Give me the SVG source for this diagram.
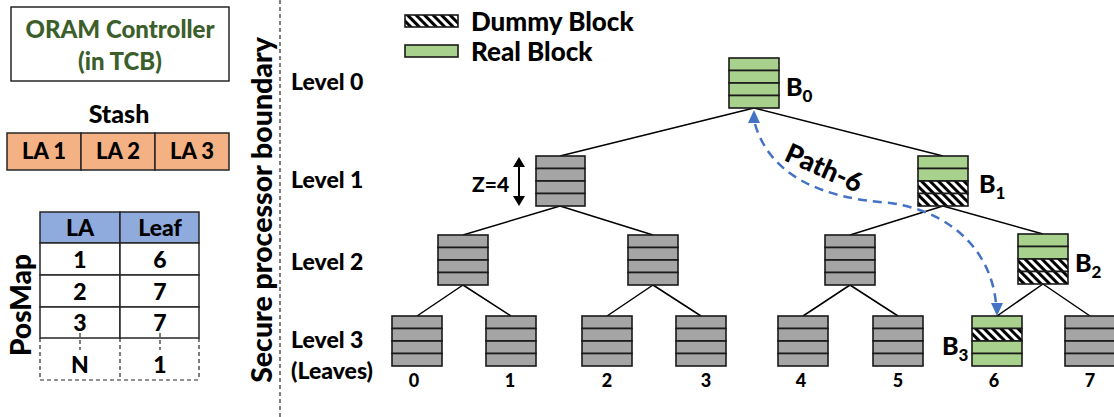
<svg xmlns="http://www.w3.org/2000/svg" width="1114" height="417" viewBox="0 0 1114 417">
  <style>
    text { font-family: "Lato", "Liberation Sans", sans-serif; font-weight: 900; fill: #000; }
    .box { fill: #fff; stroke: #262626; stroke-width: 1.5; }
    .cell { stroke: #262626; stroke-width: 1.5; }
    .stash { fill: #f4b183; }
    .hdr { fill: #8faadc; }
    .white { fill: #fff; }
    .gray { fill: #a5a5a5; stroke: #1a1a1a; stroke-width: 1.6; }
    .green { fill: #a9d18e; stroke: #1a1a1a; stroke-width: 1.6; }
    .hatch { fill: url(#hatch); stroke: #1a1a1a; stroke-width: 1.6; }
    .edge { stroke: #000; stroke-width: 1.5; fill: none; }
    .dash { stroke: #262626; stroke-width: 1.2; stroke-dasharray: 4 3; fill: none; }
    .path6 { stroke: #4472c4; stroke-width: 2.5; stroke-dasharray: 9 6; fill: none; }
    .lvl { font-size: 23px; }
    .leaf { font-size: 18px; text-anchor: middle; }
    .blab { font-size: 25px; }
    .sub { font-size: 17px; }
    .tbl { font-size: 23px; text-anchor: middle; }
  </style>
  <defs>
    <pattern id="hatch" patternUnits="userSpaceOnUse" width="6" height="6" patternTransform="rotate(-45)">
      <rect width="6" height="6" fill="#fff"/>
      <rect width="3" height="6" fill="#000"/>
    </pattern>
  </defs>

  <!-- Left panel: controller, stash, position map -->
  <g id="oram-controller">
    <rect class="box" x="11" y="7" width="218" height="74"/>
    <text x="120" y="38" font-size="24" text-anchor="middle" style="fill:#3b5e2b">ORAM Controller</text>
    <text x="120" y="70" font-size="24" text-anchor="middle" style="fill:#3b5e2b">(in TCB)</text>
  </g>

  <g id="stash">
    <text x="119" y="123" font-size="25" text-anchor="middle">Stash</text>
    <rect class="cell stash" x="7" y="133" width="74" height="37"/>
    <rect class="cell stash" x="81" y="133" width="74" height="37"/>
    <rect class="cell stash" x="155" y="133" width="74" height="37"/>
    <text x="44" y="159" font-size="22" text-anchor="middle">LA 1</text>
    <text x="118" y="159" font-size="22" text-anchor="middle">LA 2</text>
    <text x="192" y="159" font-size="22" text-anchor="middle">LA 3</text>
  </g>

  <g id="posmap">
    <text transform="translate(31,305) rotate(-90)" font-size="28" text-anchor="middle">PosMap</text>
    <rect class="cell hdr" x="40" y="212" width="80" height="31"/>
    <rect class="cell hdr" x="120" y="212" width="79" height="31"/>
    <rect class="cell white" x="40" y="243" width="80" height="32"/>
    <rect class="cell white" x="120" y="243" width="79" height="32"/>
    <rect class="cell white" x="40" y="275" width="80" height="32"/>
    <rect class="cell white" x="120" y="275" width="79" height="32"/>
    <rect class="cell white" x="40" y="307" width="80" height="31"/>
    <rect class="cell white" x="120" y="307" width="79" height="31"/>
    <line class="dash" x1="40" y1="338" x2="40" y2="380"/>
    <line class="dash" x1="120" y1="338" x2="120" y2="380"/>
    <line class="dash" x1="199" y1="338" x2="199" y2="380"/>
    <line class="dash" x1="40" y1="380" x2="199" y2="380"/>
    <line class="dash" x1="80" y1="333" x2="80" y2="350"/>
    <line class="dash" x1="160" y1="333" x2="160" y2="350"/>
    <text class="tbl" x="80" y="236">LA</text>
    <text class="tbl" x="160" y="236">Leaf</text>
    <text class="tbl" x="80" y="268">1</text>
    <text class="tbl" x="160" y="268">6</text>
    <text class="tbl" x="80" y="300">2</text>
    <text class="tbl" x="160" y="300">7</text>
    <text class="tbl" x="80" y="331">3</text>
    <text class="tbl" x="160" y="331">7</text>
    <text class="tbl" x="80" y="373">N</text>
    <text class="tbl" x="160" y="373">1</text>
  </g>

  <!-- Secure processor boundary -->
  <g id="boundary">
    <line x1="280" y1="0" x2="280" y2="417" stroke="#555" stroke-width="1.5" stroke-dasharray="4 3"/>
    <text transform="translate(272,210) rotate(-90)" font-size="28.5" text-anchor="middle">Secure processor boundary</text>
  </g>

  <!-- Legend -->
  <g id="legend">
    <rect class="hatch" x="405" y="15" width="53" height="12"/>
    <text x="471" y="31" font-size="26">Dummy Block</text>
    <rect class="green" x="405" y="45" width="53" height="12"/>
    <text x="471" y="61" font-size="26">Real Block</text>
  </g>

  <!-- Level labels -->
  <g id="levels">
    <text class="lvl" x="291" y="90">Level 0</text>
    <text class="lvl" x="291" y="188">Level 1</text>
    <text class="lvl" x="291" y="270">Level 2</text>
    <text class="lvl" x="291" y="348">Level 3</text>
    <text class="lvl" x="291" y="379">(Leaves)</text>
  </g>

  <!-- Tree edges, bucket-size arrow and the highlighted path -->
  <g id="connectors">
    <path class="edge" d="M754,108 L560,156 M754,108 L943,156"/>
    <path class="edge" d="M560,206 L463,235 M560,206 L653,235"/>
    <path class="edge" d="M943,206 L850,235 M943,206 L1043,234"/>
    <path class="edge" d="M463,285 L417,316 M463,285 L511,316"/>
    <path class="edge" d="M653,285 L607,316 M653,285 L701,316"/>
    <path class="edge" d="M850,285 L803,316 M850,285 L898,316"/>
    <path class="edge" d="M1043,284 L997,316 M1043,284 L1090,316"/>
    <line x1="519" y1="165" x2="519" y2="198" stroke="#000" stroke-width="2"/>
    <path d="M519,157 L513,167 L525,167 Z M519,206 L513,196 L525,196 Z" fill="#000"/>
    <path class="path6" d="M755,124 C770,175 820,198 890,203 C955,212 992,255 996,304"/>
    <path d="M754,110 L748,123 L760,123 Z" fill="#4472c4"/>
    <path d="M997,316 L991,303 L1003,303 Z" fill="#4472c4"/>
  </g>

  <text x="472" y="192" font-size="21">Z=4</text>
  <text transform="translate(783,160) rotate(24)" font-size="27">Path-6</text>

  <!-- Level 0 -->
  <g id="node-b0">
    <rect class="green" x="729" y="58" width="50" height="12.5"/>
    <rect class="green" x="729" y="70.5" width="50" height="12.5"/>
    <rect class="green" x="729" y="83" width="50" height="12.5"/>
    <rect class="green" x="729" y="95.5" width="50" height="12.5"/>
    <text class="blab" x="786" y="96">B<tspan class="sub" dy="6">0</tspan></text>
  </g>

  <!-- Level 1 -->
  <g id="node-l1-0">
    <rect class="gray" x="536" y="156" width="49" height="12.5"/>
    <rect class="gray" x="536" y="168.5" width="49" height="12.5"/>
    <rect class="gray" x="536" y="181" width="49" height="12.5"/>
    <rect class="gray" x="536" y="193.5" width="49" height="12.5"/>
  </g>
  <g id="node-b1">
    <rect class="green" x="918" y="156" width="50" height="12.5"/>
    <rect class="green" x="918" y="168.5" width="50" height="12.5"/>
    <rect class="hatch" x="918" y="181" width="50" height="12.5"/>
    <rect class="hatch" x="918" y="193.5" width="50" height="12.5"/>
    <text class="blab" x="979" y="193">B<tspan class="sub" dy="6">1</tspan></text>
  </g>

  <!-- Level 2 -->
  <g id="node-l2-0">
    <rect class="gray" x="438" y="235" width="50" height="12.5"/>
    <rect class="gray" x="438" y="247.5" width="50" height="12.5"/>
    <rect class="gray" x="438" y="260" width="50" height="12.5"/>
    <rect class="gray" x="438" y="272.5" width="50" height="12.5"/>
  </g>
  <g id="node-l2-1">
    <rect class="gray" x="628" y="235" width="50" height="12.5"/>
    <rect class="gray" x="628" y="247.5" width="50" height="12.5"/>
    <rect class="gray" x="628" y="260" width="50" height="12.5"/>
    <rect class="gray" x="628" y="272.5" width="50" height="12.5"/>
  </g>
  <g id="node-l2-2">
    <rect class="gray" x="825" y="235" width="50" height="12.5"/>
    <rect class="gray" x="825" y="247.5" width="50" height="12.5"/>
    <rect class="gray" x="825" y="260" width="50" height="12.5"/>
    <rect class="gray" x="825" y="272.5" width="50" height="12.5"/>
  </g>
  <g id="node-b2">
    <rect class="green" x="1018" y="234" width="50" height="12.5"/>
    <rect class="green" x="1018" y="246.5" width="50" height="12.5"/>
    <rect class="hatch" x="1018" y="259" width="50" height="12.5"/>
    <rect class="hatch" x="1018" y="271.5" width="50" height="12.5"/>
    <text class="blab" x="1075" y="272">B<tspan class="sub" dy="6">2</tspan></text>
  </g>

  <!-- Level 3 (leaves) -->
  <g id="leaf-0">
    <rect class="gray" x="392" y="316" width="50" height="12.5"/>
    <rect class="gray" x="392" y="328.5" width="50" height="12.5"/>
    <rect class="gray" x="392" y="341" width="50" height="12.5"/>
    <rect class="gray" x="392" y="353.5" width="50" height="12.5"/>
    <text class="leaf" x="414" y="387">0</text>
  </g>
  <g id="leaf-1">
    <rect class="gray" x="486" y="316" width="50" height="12.5"/>
    <rect class="gray" x="486" y="328.5" width="50" height="12.5"/>
    <rect class="gray" x="486" y="341" width="50" height="12.5"/>
    <rect class="gray" x="486" y="353.5" width="50" height="12.5"/>
    <text class="leaf" x="510" y="387">1</text>
  </g>
  <g id="leaf-2">
    <rect class="gray" x="582" y="316" width="50" height="12.5"/>
    <rect class="gray" x="582" y="328.5" width="50" height="12.5"/>
    <rect class="gray" x="582" y="341" width="50" height="12.5"/>
    <rect class="gray" x="582" y="353.5" width="50" height="12.5"/>
    <text class="leaf" x="607" y="387">2</text>
  </g>
  <g id="leaf-3">
    <rect class="gray" x="676" y="316" width="50" height="12.5"/>
    <rect class="gray" x="676" y="328.5" width="50" height="12.5"/>
    <rect class="gray" x="676" y="341" width="50" height="12.5"/>
    <rect class="gray" x="676" y="353.5" width="50" height="12.5"/>
    <text class="leaf" x="706" y="387">3</text>
  </g>
  <g id="leaf-4">
    <rect class="gray" x="778" y="316" width="50" height="12.5"/>
    <rect class="gray" x="778" y="328.5" width="50" height="12.5"/>
    <rect class="gray" x="778" y="341" width="50" height="12.5"/>
    <rect class="gray" x="778" y="353.5" width="50" height="12.5"/>
    <text class="leaf" x="801" y="387">4</text>
  </g>
  <g id="leaf-5">
    <rect class="gray" x="873" y="316" width="50" height="12.5"/>
    <rect class="gray" x="873" y="328.5" width="50" height="12.5"/>
    <rect class="gray" x="873" y="341" width="50" height="12.5"/>
    <rect class="gray" x="873" y="353.5" width="50" height="12.5"/>
    <text class="leaf" x="898" y="387">5</text>
  </g>
  <g id="leaf-6">
    <rect class="green" x="972" y="316" width="50" height="12.5"/>
    <rect class="hatch" x="972" y="328.5" width="50" height="12.5"/>
    <rect class="green" x="972" y="341" width="50" height="12.5"/>
    <rect class="green" x="972" y="353.5" width="50" height="12.5"/>
    <text class="blab" x="942" y="355">B<tspan class="sub" dy="6">3</tspan></text>
    <text class="leaf" x="994" y="387">6</text>
  </g>
  <g id="leaf-7">
    <rect class="gray" x="1065" y="316" width="50" height="12.5"/>
    <rect class="gray" x="1065" y="328.5" width="50" height="12.5"/>
    <rect class="gray" x="1065" y="341" width="50" height="12.5"/>
    <rect class="gray" x="1065" y="353.5" width="50" height="12.5"/>
    <text class="leaf" x="1090" y="387">7</text>
  </g>
</svg>
